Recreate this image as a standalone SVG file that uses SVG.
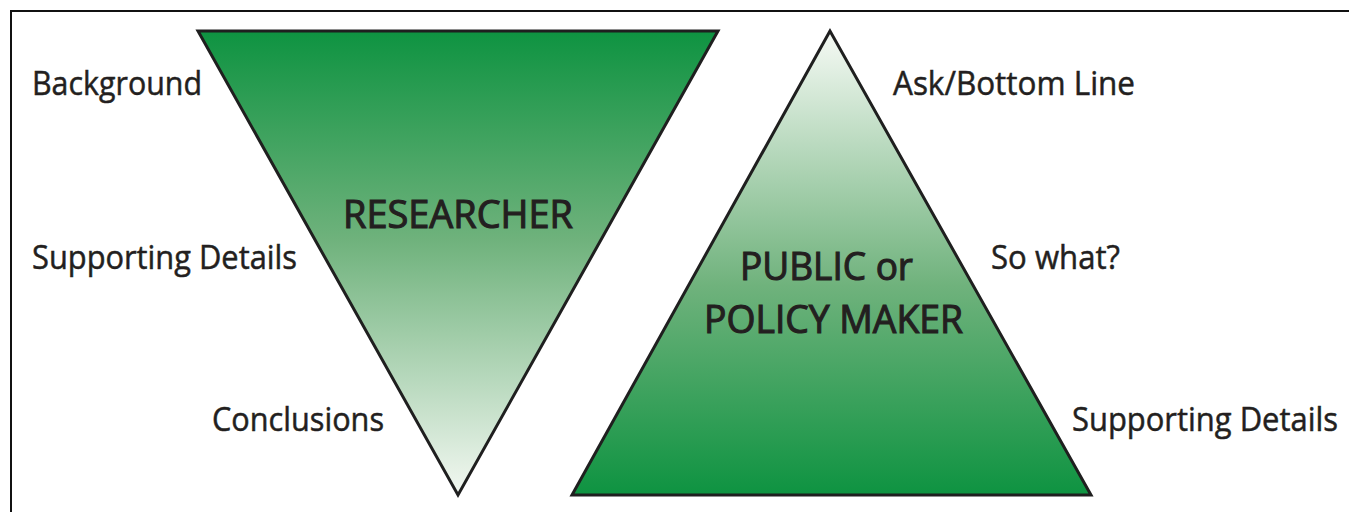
<svg xmlns="http://www.w3.org/2000/svg" width="1349" height="512" viewBox="0 0 1349 512">
<defs>
<linearGradient id="gDown" x1="0" y1="0" x2="0" y2="1">
<stop offset="0" stop-color="#0e9341"/>
<stop offset="0.45" stop-color="#6fb27c"/>
<stop offset="1" stop-color="#f3f8f2"/>
</linearGradient>
<linearGradient id="gUp" x1="0" y1="0" x2="0" y2="1">
<stop offset="0" stop-color="#f6faf5"/>
<stop offset="0.55" stop-color="#6fb27c"/>
<stop offset="1" stop-color="#0e9341"/>
</linearGradient>
<style>
.tri{stroke:#1f1f1f;stroke-width:3;stroke-linejoin:miter}
.lbl{font-family:"Open Sans","Liberation Sans",sans-serif;font-size:33px;font-weight:400;fill:#231f20;stroke:#231f20;stroke-width:0.5}
.big{font-family:"Open Sans","Liberation Sans",sans-serif;font-size:38px;font-weight:400;fill:#231f20;stroke:#231f20;stroke-width:1.1}
.frame{fill:none;stroke:#111;stroke-width:2}
</style>
</defs>
<rect width="1349" height="512" fill="#ffffff"/>
<path class="frame" d="M11,512 V11 H1349"/>
<g id="researcher">
<polygon class="tri" points="198,31 718,31 458,495" fill="url(#gDown)"/>
<text class="big" x="343" y="228" textLength="230" lengthAdjust="spacingAndGlyphs">RESEARCHER</text>
</g>
<g id="public">
<polygon class="tri" points="830,31 572,495 1091,495" fill="url(#gUp)"/>
<text class="big" x="740" y="280" textLength="173" lengthAdjust="spacingAndGlyphs">PUBLIC or</text>
<text class="big" x="704" y="333" textLength="259" lengthAdjust="spacingAndGlyphs">POLICY MAKER</text>
</g>
<g id="left-labels">
<text class="lbl" x="32" y="95" textLength="170" lengthAdjust="spacingAndGlyphs">Background</text>
<text class="lbl" x="32" y="269" textLength="265" lengthAdjust="spacingAndGlyphs">Supporting Details</text>
<text class="lbl" x="212" y="431" textLength="172" lengthAdjust="spacingAndGlyphs">Conclusions</text>
</g>
<g id="right-labels">
<text class="lbl" x="893" y="95" textLength="242" lengthAdjust="spacingAndGlyphs">Ask/Bottom Line</text>
<text class="lbl" x="991" y="269" textLength="129" lengthAdjust="spacingAndGlyphs">So what?</text>
<text class="lbl" x="1072" y="431" textLength="266" lengthAdjust="spacingAndGlyphs">Supporting Details</text>
</g>
<g id="connectors"></g>
</svg>
